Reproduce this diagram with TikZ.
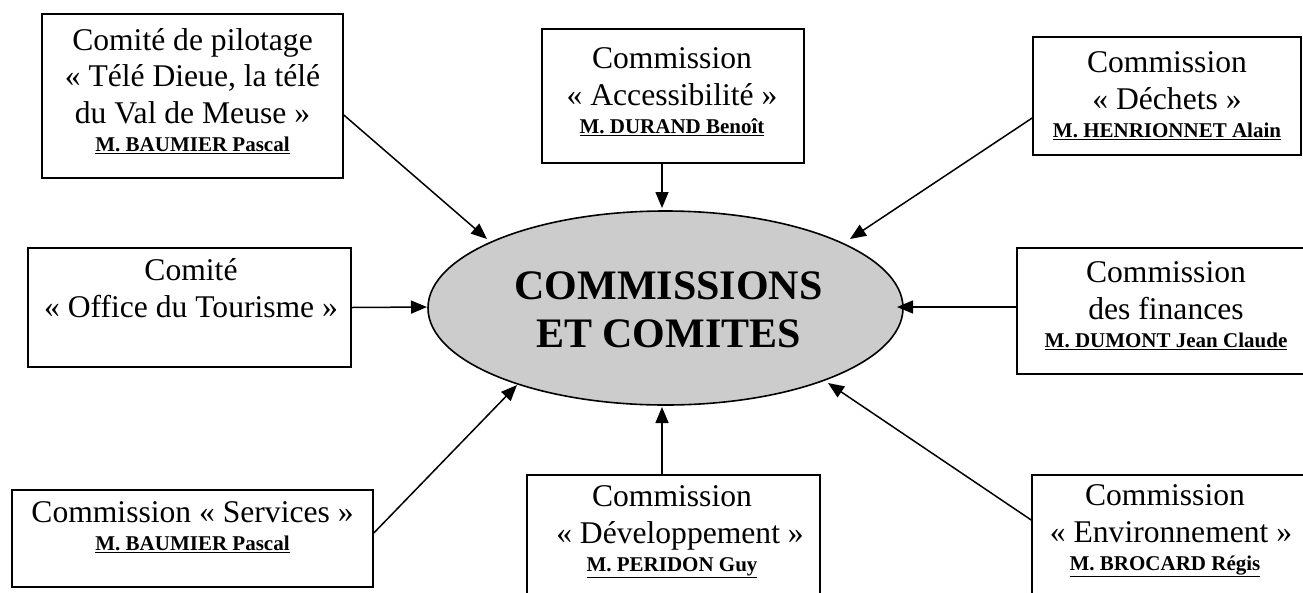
\documentclass[tikz,border=0pt]{standalone}
\usepackage{fontspec}
\setmainfont{Liberation Serif}
\usetikzlibrary{arrows.meta,shapes.geometric}
\definecolor{ellgray}{HTML}{CCCCCC}
\newcommand{\nm}[1]{{\fontsize{21}{24}\selectfont\bfseries\underline{#1}}}
\tikzset{
  box/.style={draw, line width=1.6pt, rectangle, inner sep=0pt},
  txt/.style={anchor=base, align=center, inner sep=0pt, font=\fontsize{31.6}{36.5}\selectfont},
  arr/.style={line width=1.5pt, -{Triangle[length=16pt,width=13pt]}},
}
\begin{document}
\begin{tikzpicture}[x=1pt,y=-1pt]
\clip (0,0) rectangle (1303,592);
\fill[white] (0,0) rectangle (1303,592);
% boxes
\node[box, minimum width=301pt, minimum height=164pt] (b1) at (192.5,96) {};
\node[box, minimum width=262pt, minimum height=134pt] (b2) at (673,96) {};
\node[box, minimum width=268pt, minimum height=118pt] (b3) at (1167,96) {};
\node[box, minimum width=323pt, minimum height=119pt] (b4) at (189.5,307.5) {};
\node[box, minimum width=361pt, minimum height=97pt] (b5) at (192.5,538.5) {};
\node[box, minimum width=293pt, minimum height=125pt] (b6) at (673.5,537.5) {};
\node[box, minimum width=298pt, minimum height=126pt] (b7) at (1166,311) {};
\node[box, minimum width=278pt, minimum height=125pt] (b8) at (1171,537.5) {};
% texts (anchor base = baseline of last line)
\node[txt] (t1) at (192.5,151) {Comité de pilotage\\« Télé Dieue, la télé\\du Val de Meuse »\\[-8.5pt]\nm{M. BAUMIER Pascal}};
\node[txt] (t2) at (672,133) {Commission\\« Accessibilité »\\[-8.5pt]\nm{M. DURAND Benoît}};
\node[txt] (t3) at (1167,137) {Commission\\« Déchets »\\[-8.5pt]\nm{M. HENRIONNET Alain}};
\node[txt] (t4) at (191,317) {Comité\\« Office du Tourisme »};
\node[txt] (t5) at (192.5,550) {Commission « Services »\\[-8.5pt]\nm{M. BAUMIER Pascal}};
\node[txt] (t6) at (672,571) {Commission\\\hspace{16pt}« Développement »\\[-8.5pt]\nm{M. PERIDON Guy}};
\node[txt] (t7) at (1166,347) {Commission\\des finances\\[-8.5pt]\nm{M. DUMONT Jean Claude}};
\node[txt] (t8) at (1165,570) {Commission\\\hspace{12pt}« Environnement »\\[-8.5pt]\nm{M. BROCARD Régis}};
% centre
\node[draw, ellipse, line width=1.6pt, fill=ellgray, minimum width=475pt, minimum height=194pt, inner sep=0pt] (e) at (665.5,308) {};
\node[anchor=base, align=center, inner sep=0pt, font=\fontsize{42}{48}\selectfont\bfseries] (et) at (668.5,347) {COMMISSIONS\\ET COMITES};
% arrow tips
\coordinate (p1) at (487,239);
\coordinate (p2) at (662,208);
\coordinate (p3) at (850,239);
\coordinate (p4) at (427,307);
\coordinate (p5) at (517,385);
\coordinate (p6) at (662,407);
\coordinate (p7) at (897,307);
\coordinate (p8) at (828,383);
% connectors
\draw[arr] ([yshift=-19pt]b1.east) -- (p1);
\draw[arr] ([xshift=-11pt]b2.south) -- (p2);
\draw[arr] ([yshift=-22pt]b3.west) -- (p3);
\draw[arr] (b4.east) -- (p4);
\draw[arr] ([yshift=5.5pt]b5.east) -- (p5);
\draw[arr] ([xshift=-11.5pt]b6.north) -- (p6);
\draw[arr] ([yshift=4pt]b7.west) -- (p7);
\draw[arr] ([yshift=17.5pt]b8.west) -- (p8);
\end{tikzpicture}
\end{document}
